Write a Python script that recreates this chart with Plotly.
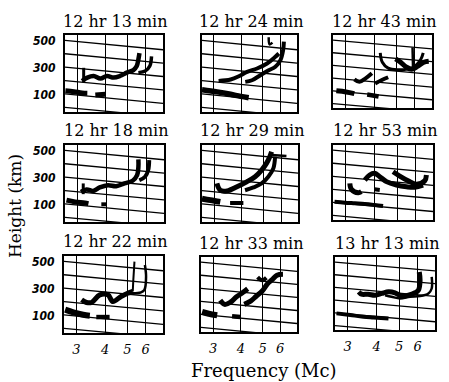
import math
import plotly.graph_objects as go

W, H = 449, 382

titles = ["12 hr 13 min", "12 hr 24 min", "12 hr 43 min",
          "12 hr 18 min", "12 hr 29 min", "12 hr 53 min",
          "12 hr 22 min", "12 hr 33 min", "13 hr 13 min"]
x_ticks = [3, 4, 5, 6]
x_tick_text = ["3", "4", "5", "6"]
y_ticks = [100, 300, 500]
y_tick_text = ["100", "300", "500"]
x_title = "Frequency (Mc)"
y_title = "Height (km)"

F_MIN, F_MAX = 2.65, 7.13
H_MIN, H_MAX = -30, 545

# slanted height grid of the film: height at left edge, drop across the panel
grid_left = [505, 405, 305, 205, 105, 5]
grid_drop = 70

# ---- traces of each ionogram: lists of (frequency Mc) and (height km) per stroke
p1_f = [[2.66, 2.9, 3.15, 3.32], [3.6, 3.98], [3.2, 3.2],
        [3.15, 3.32, 3.54, 3.79, 4.05, 4.33, 4.62, 4.95, 5.29, 5.47, 5.56, 5.62],
        [5.56, 5.96, 6.24, 6.35]]
p1_h = [[129, 122, 112, 110], [97, 102], [300, 190],
        [202, 227, 239, 220, 239, 227, 239, 264, 283, 313, 362, 410],
        [264, 276, 313, 386]]

p2_f = [[2.65, 3.1, 3.57, 3.96, 4.31],
        [3.15, 3.57, 3.89, 4.24, 4.7, 5.22, 5.69, 5.9],
        [4.16, 4.46, 4.87, 5.31, 5.69, 6.0, 6.17, 6.22],
        [5.31, 5.36, 5.52]]
p2_h = [[137, 120, 102, 87, 77],
        [202, 213, 237, 270, 295, 332, 382, 407],
        [195, 207, 245, 282, 308, 358, 432, 495],
        [528, 475, 488]]

p3_f = [[2.74, 3.02, 3.28], [3.73, 4.18], [3.28, 3.45, 3.67, 3.91], [4.04, 4.32, 4.6],
        [4.25, 4.34, 4.6, 5.08, 5.59, 6.0, 6.37, 6.53],
        [4.95, 5.21, 5.5, 5.82, 6.17, 6.57, 6.9], [5.87, 5.9]]
p3_h = [[105, 96, 83], [77, 61], [196, 177, 204, 244], [163, 190, 212],
        [405, 330, 284, 271, 276, 298, 352, 405],
        [357, 330, 293, 276, 298, 330, 338], [446, 284]]

p4_f = [[2.69, 2.93, 3.23, 3.35], [3.81, 4.0], [3.18, 3.18],
        [3.11, 3.29, 3.51, 3.75, 4.07, 4.42, 4.8, 5.21, 5.45, 5.52, 5.52],
        [5.57, 5.9, 6.09, 6.15]]
p4_h = [[133, 120, 112, 107], [102, 102], [258, 178],
        [195, 213, 202, 228, 245, 237, 258, 278, 320, 382, 437],
        [282, 308, 358, 432]]

p5_f = [[2.65, 2.89, 3.2], [3.54, 4.06],
        [3.09, 3.2, 3.43, 3.8, 4.2, 4.58, 4.9, 5.15, 5.33, 5.43],
        [4.13, 4.5, 4.9, 5.25, 5.53, 5.63], [5.43, 6.33]]
p5_h = [[145, 133, 120], [112, 112],
        [258, 207, 202, 233, 270, 308, 358, 408, 458, 495],
        [207, 228, 258, 308, 370, 458], [470, 463]]

p6_f = [[2.69, 2.98, 3.29, 3.63, 4.0, 4.35], [3.13, 3.18, 3.4, 3.51],
        [3.63, 3.81, 4.0, 4.21, 4.5, 4.97, 5.48, 5.95, 6.46],
        [4.8, 5.13, 5.57, 6.05, 6.57, 6.68], [4.0, 4.21]]
p6_h = [[110, 103, 98, 93, 85, 77], [251, 205, 179, 187],
        [276, 315, 328, 302, 264, 238, 225, 221, 238],
        [340, 307, 271, 244, 271, 315], [205, 200]]

p7_f = [[2.68, 2.91, 3.21, 3.43], [3.66, 3.91, 4.18],
        [3.16, 3.32, 3.49, 3.79, 4.11, 4.32, 4.69, 5.01, 5.27],
        [5.27, 5.3, 5.36], [5.27, 5.72, 5.92, 6.02, 5.95]]
p7_h = [[144, 124, 106, 99], [89, 89, 89],
        [218, 198, 198, 255, 255, 205, 243, 267, 280],
        [280, 367, 503], [267, 273, 292, 391, 478]]

p8_f = [[2.68, 2.87, 3.13], [3.65, 3.98], [3.23, 3.38, 3.6, 3.81, 4.05, 4.29],
        [4.14, 4.42, 4.68, 4.98, 5.24, 5.52, 5.8, 6.17], [4.75, 4.98, 5.2]]
p8_h = [[124, 110, 98], [90, 85], [213, 182, 200, 238, 269, 302],
        [182, 207, 244, 284, 336, 371, 405, 412], [391, 366, 386]]

p9_f = [[2.69, 3.08, 3.51, 3.88, 4.5],
        [3.35, 3.45, 3.68, 3.94, 4.21, 4.5, 4.8, 5.13, 5.48, 5.85, 6.05, 6.15, 6.1],
        [4.35, 4.64, 5.05, 5.57, 6.15, 6.68, 6.9, 6.9]]
p9_h = [[101, 88, 75, 69, 61],
        [271, 252, 252, 244, 258, 271, 263, 237, 244, 263, 283, 362, 427],
        [244, 232, 218, 232, 237, 258, 297, 388]]

# stroke widths (style)
widths = [
    [5, 5, 3, 4.5, 3.5],
    [5.5, 4, 4, 2.5],
    [5, 4.5, 4, 4, 3, 5, 2.5],
    [5, 4, 3, 4.5, 4],
    [6, 4, 5, 4, 2.5],
    [4, 5, 5, 5, 4],
    [6, 4.5, 5, 2, 2.5],
    [6, 4.5, 5, 5, 4],
    [4, 5, 2.5],
]

panels_f = [p1_f, p2_f, p3_f, p4_f, p5_f, p6_f, p7_f, p8_f, p9_f]
panels_h = [p1_h, p2_h, p3_h, p4_h, p5_h, p6_h, p7_h, p8_h, p9_h]

# panel boxes in pixels (x0, x1, y0, y1)
boxes = [
    (65, 163, 35, 112), (202, 297, 35, 112), (333, 432, 35, 108),
    (65, 164, 145, 222), (202, 298, 145, 222), (333, 433, 145, 220),
    (64, 163, 256, 333), (201, 297, 257, 332), (335, 435, 257, 330),
]

fig = go.Figure()
layout = dict(width=W, height=H, margin=dict(l=0, r=0, t=0, b=0),
              paper_bgcolor="white", plot_bgcolor="white", showlegend=False)
annotations = []

for i in range(9):
    k = "" if i == 0 else str(i + 1)
    xa, ya = "x" + k, "y" + k
    x0, x1, y0, y1 = boxes[i]
    row, col = divmod(i, 3)
    layout["xaxis" + k] = dict(
        domain=[x0 / W, x1 / W], type="log", anchor=ya,
        range=[math.log10(F_MIN), math.log10(F_MAX)],
        tickvals=x_ticks, ticktext=x_tick_text, showticklabels=(row == 2),
        ticks="", showgrid=True, gridcolor="black", gridwidth=1.4,
        showline=True, linecolor="black", linewidth=2, mirror=True, zeroline=False,
        tickfont=dict(family="DejaVu Serif", size=13, color="black", style="italic"),
        ticklabelstandoff=3)
    layout["yaxis" + k] = dict(
        domain=[1 - y1 / H, 1 - y0 / H], anchor=xa, range=[H_MIN, H_MAX],
        tickvals=y_ticks, ticktext=y_tick_text, showticklabels=(col == 0),
        ticks="", showgrid=False, zeroline=False,
        showline=True, linecolor="black", linewidth=2, mirror=True,
        tickfont=dict(family="Liberation Sans Narrow, DejaVu Sans Condensed", size=12,
                      color="black", style="italic", weight="bold"),
        ticklabelstandoff=5)
    # slanted grid lines
    for g in grid_left:
        fig.add_trace(go.Scatter(x=[F_MIN, F_MAX], y=[g, g - grid_drop], mode="lines",
                                 line=dict(color="black", width=1.3),
                                 xaxis=xa, yaxis=ya, hoverinfo="skip"))
    # ionogram strokes
    for f, h, w in zip(panels_f[i], panels_h[i], widths[i]):
        fig.add_trace(go.Scatter(x=f, y=h, mode="lines",
                                 line=dict(color="black", width=w, shape="spline"),
                                 xaxis=xa, yaxis=ya, hoverinfo="skip"))
    annotations.append(dict(text=titles[i], xref="paper", yref="paper",
                            x=(x0 + x1) / 2 / W + 2 / W, y=1 - (y0 - 14) / H,
                            xanchor="center", yanchor="middle", showarrow=False,
                            font=dict(family="DejaVu Serif", size=16, color="black")))

annotations.append(dict(text=x_title, xref="paper", yref="paper", x=264 / W, y=1 - 370 / H,
                        xanchor="center", yanchor="middle", showarrow=False,
                        font=dict(family="DejaVu Serif", size=18, color="black")))
annotations.append(dict(text=y_title, xref="paper", yref="paper", x=15 / W, y=1 - 206 / H,
                        xanchor="center", yanchor="middle", showarrow=False, textangle=-90,
                        font=dict(family="DejaVu Serif", size=17, color="black")))
layout["annotations"] = annotations
fig.update_layout(**layout)
fig.write_html("out.html")
